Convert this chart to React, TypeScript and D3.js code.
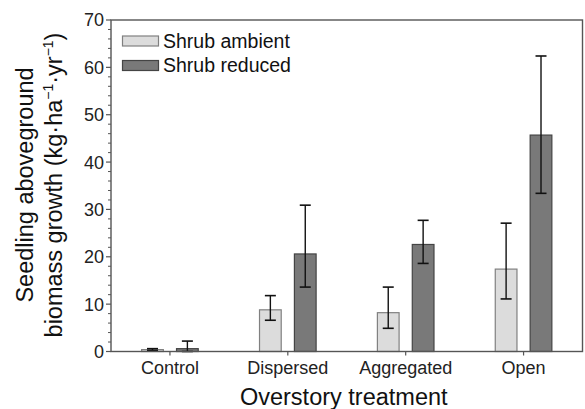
import React from "react";
import * as d3 from "d3";

const categories = ["Control", "Dispersed", "Aggregated", "Open"];
const seriesNames = ["Shrub ambient", "Shrub reduced"];
const ambientMean = [0.4, 8.8, 8.2, 17.4];
const ambientLow = [0.2, 6.6, 4.9, 11.1];
const ambientHigh = [0.6, 11.8, 13.6, 27.1];
const reducedMean = [0.6, 20.6, 22.6, 45.7];
const reducedLow = [0.0, 13.6, 18.6, 33.4];
const reducedHigh = [2.2, 30.9, 27.7, 62.4];
const yMajorTicks = [0, 10, 20, 30, 40, 50, 60, 70];

const W = 585;
const H = 409;
const left = 111;
const right = 582.5;
const top = 20;
const bottom = 351.5;
const font = "'Liberation Sans', Arial, Helvetica, sans-serif";

const fills = ["#dcdcdc", "#797979"];
const strokes = ["#808080", "#444444"];

export default function App() {
  const x = d3.scaleBand<string>().domain(categories).range([left, right]).padding(0);
  const xSub = d3
    .scaleBand<string>()
    .domain(seriesNames)
    .range([-28.3, 28.3])
    .paddingInner(0.378)
    .paddingOuter(0);
  const y = d3.scaleLinear().domain([0, 70]).range([bottom, top]);
  const minorTicks = d3.range(0, 71, 2).filter((v) => v % 10 !== 0);

  const series = [
    { name: seriesNames[0], mean: ambientMean, low: ambientLow, high: ambientHigh },
    { name: seriesNames[1], mean: reducedMean, low: reducedLow, high: reducedHigh },
  ];

  const cap = 5.5;

  return (
    <svg
      width={W}
      height={H}
      style={{ position: "absolute", left: 0, top: 0, background: "#fff" }}
      fontFamily={font}
    >
      {/* bars */}
      {series.map((s, si) =>
        categories.map((c, ci) => {
          const cx = (x(c) as number) + x.bandwidth() / 2;
          const bx = cx + (xSub(s.name) as number);
          const bw = xSub.bandwidth();
          const yt = y(s.mean[ci]);
          return (
            <g key={s.name + c}>
              <rect
                x={bx}
                y={yt}
                width={bw}
                height={bottom - yt}
                fill={fills[si]}
                stroke={strokes[si]}
                strokeWidth={1.2}
              />
              <line
                x1={bx + bw / 2}
                x2={bx + bw / 2}
                y1={y(s.low[ci])}
                y2={y(s.high[ci])}
                stroke="#111"
                strokeWidth={1.4}
              />
              <line
                x1={bx + bw / 2 - cap}
                x2={bx + bw / 2 + cap}
                y1={y(s.high[ci])}
                y2={y(s.high[ci])}
                stroke="#111"
                strokeWidth={1.6}
              />
              <line
                x1={bx + bw / 2 - cap}
                x2={bx + bw / 2 + cap}
                y1={y(s.low[ci])}
                y2={y(s.low[ci])}
                stroke="#111"
                strokeWidth={1.6}
              />
            </g>
          );
        })
      )}

      {/* frame */}
      <rect
        x={left}
        y={top}
        width={right - left}
        height={bottom - top}
        fill="none"
        stroke="#555"
        strokeWidth={1.4}
      />

      {/* y ticks */}
      {yMajorTicks.map((t) => (
        <g key={"yt" + t}>
          <line x1={left - 5} x2={left} y1={y(t)} y2={y(t)} stroke="#555" strokeWidth={1.2} />
          <text
            x={left - 7}
            y={y(t)}
            dy="0.36em"
            textAnchor="end"
            fontSize={18}
            fill="#222"
          >
            {t}
          </text>
        </g>
      ))}
      {minorTicks.map((t) => (
        <line key={"ym" + t} x1={left - 3} x2={left} y1={y(t)} y2={y(t)} stroke="#555" strokeWidth={1} />
      ))}

      {/* x ticks */}
      {categories.map((c) => {
        const cx = (x(c) as number) + x.bandwidth() / 2;
        return (
          <g key={"xt" + c}>
            <line x1={cx} x2={cx} y1={bottom} y2={bottom + 4} stroke="#555" strokeWidth={1.2} />
            <text x={cx} y={374} textAnchor="middle" fontSize={18} fill="#222">
              {c}
            </text>
          </g>
        );
      })}

      {/* axis titles */}
      <text x={(left + right) / 2 - 3} y={405} textAnchor="middle" fontSize={23.5} fill="#111">
        Overstory treatment
      </text>
      <text
        transform={`translate(33,185) rotate(-90)`}
        textAnchor="middle"
        fontSize={23.5}
        fill="#111"
      >
        Seedling aboveground
      </text>
      <text
        transform={`translate(62,185) rotate(-90)`}
        textAnchor="middle"
        fontSize={23.5}
        fill="#111"
      >
        <tspan>biomass growth (kg·ha</tspan>
        <tspan fontSize={14} dy={-9}>−1</tspan>
        <tspan dy={9}>·yr</tspan>
        <tspan fontSize={14} dy={-9}>−1</tspan>
        <tspan dy={9}>)</tspan>
      </text>

      {/* legend */}
      {seriesNames.map((n, i) => (
        <g key={"lg" + n}>
          <rect
            x={122.5}
            y={36 + i * 24.5}
            width={36}
            height={10}
            fill={fills[i]}
            stroke={strokes[i]}
            strokeWidth={1.2}
          />
          <text x={163} y={47.5 + i * 24.5} fontSize={19.5} fill="#111">
            {n}
          </text>
        </g>
      ))}
    </svg>
  );
}
